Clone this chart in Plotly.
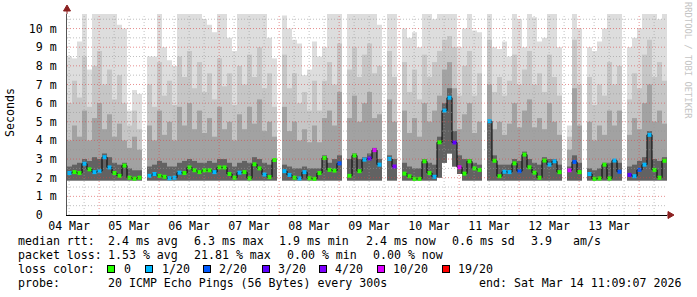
import numpy as np
import pandas as pd
import plotly.graph_objects as go

# ---------------- data ----------------
START = "2026-03-04 11:09:07"
END = "2026-03-14 11:09:07"
STEP_HOURS = 2

# smoke levels per 2-hour column (ms); None = no data (white gap)
smoke_top = [8.5, 8.4, 9.3, 10.8, 7.8, 10.8, 10.8, 10.8, 10.8, 10.8, 10.2, 10.0,
             5.6, 6.7, 6.5, None, 8.5, 8.5, 10.8, 9.0, 8.3, 8.0, 10.8, 10.8,
             10.8, 10.8, 10.8, 10.5, 10.2, 9.8, 10.8, 10.8, 9.5, 8.8, 10.8, 10.8,
             10.8, 10.8, 10.8, 10.8, 9.5, 8.4, None, 10.7, 10.0, 9.4, 9.2, 7.5,
             7.8, 9.3, 8.5, 9.0, 10.8, 10.8, 10.8, None, 10.8, 10.8, 10.8, 10.8,
             10.8, 10.8, 10.2, None, 10.8, 10.8, None, 10.0, 9.5, 9.8, 9.0, 10.8,
             10.8, 10.5, 10.8, 10.8, 10.8, 10.8, 9.0, 10.0, 10.8, 9.9, 9.8, None,
             10.8, 9.0, 8.9, 9.3, 8.5, 10.8, 10.5, 9.0, 10.8, 10.6, 9.3, 9.5,
             10.8, 10.8, 9.0, None, 4.8, 10.8, 10.0, None, 9.0, 8.8, 9.3, 10.0,
             10.8, 10.8, 10.8, None, 9.0, 9.5, 10.0, 10.8, 10.8, 10.8, 10.5, 10.8]
smoke_upper = [6.0, 7.2, 6.3, 8.5, 5.8, 8.0, 8.8, 7.0, 7.8, 6.2, 7.5, 6.0,
               4.8, 5.6, 4.6, None, 7.0, 5.8, 8.2, 6.4, 7.2, 5.9, 8.5, 7.4,
               8.8, 6.8, 8.2, 6.6, 7.6, 6.2, 8.4, 6.9, 7.6, 5.9, 8.0, 7.0,
               8.6, 7.4, 9.0, 6.8, 7.6, 5.8, None, 8.6, 6.8, 7.6, 6.0, 6.6,
               5.6, 7.2, 5.6, 7.2, 8.2, 7.0, 9.2, None, 7.8, 9.0, 7.4, 8.6,
               9.2, 7.6, 8.0, None, 8.8, 7.4, None, 8.2, 6.6, 7.8, 6.2, 8.6,
               7.4, 8.2, 8.8, 9.4, 9.6, 9.0, 6.4, 8.0, 8.8, 6.4, 7.6, None,
               9.4, 6.6, 7.4, 6.4, 7.2, 8.6, 7.0, 7.8, 8.8, 7.0, 7.6, 6.6,
               8.6, 7.4, 6.4, None, 4.2, 9.4, 7.0, None, 7.4, 5.9, 7.0, 6.4,
               8.2, 7.0, 8.0, None, 6.2, 7.6, 6.8, 8.6, 9.4, 7.4, 8.2, 7.2]
smoke_mid = [4.0, 4.8, 4.2, 5.6, 4.0, 5.2, 6.0, 4.6, 5.4, 4.2, 4.9, 4.0,
             3.6, 4.2, 3.5, None, 4.8, 4.0, 5.6, 4.3, 5.0, 4.0, 5.8, 4.8,
             6.0, 4.6, 5.6, 4.4, 5.2, 4.2, 5.8, 4.6, 5.0, 4.0, 5.4, 4.6,
             5.8, 4.9, 6.2, 4.5, 5.0, 4.2, None, 5.8, 4.5, 5.0, 4.0, 4.6,
             3.9, 4.8, 3.9, 5.2, 5.6, 4.8, 6.6, None, 5.2, 6.4, 5.0, 6.0,
             6.6, 5.2, 5.4, None, 6.2, 5.0, None, 5.6, 4.4, 5.2, 4.2, 6.0,
             5.0, 5.6, 6.4, 7.8, 8.2, 6.8, 4.6, 5.4, 6.0, 4.4, 5.0, None,
             7.0, 4.6, 5.0, 4.3, 4.9, 6.0, 4.7, 5.6, 6.2, 4.7, 5.2, 4.6,
             6.0, 5.0, 4.3, None, 3.5, 6.8, 4.8, None, 5.0, 4.0, 4.8, 4.3,
             5.6, 4.8, 5.6, None, 4.3, 5.2, 4.6, 6.0, 7.0, 5.0, 5.6, 4.9]
smoke_dark = [2.6, 2.7, 2.8, 3.0, 2.9, 3.1, 3.0, 3.3, 3.1, 2.8, 2.7, 2.8,
              2.5, 2.4, 2.4, None, 2.6, 2.7, 2.9, 2.8, 2.6, 2.6, 2.8, 2.9,
              3.0, 2.9, 2.8, 2.8, 2.9, 2.8, 3.0, 3.0, 2.8, 2.6, 2.8, 2.9,
              2.8, 3.1, 3.0, 2.8, 2.7, 3.0, None, 2.7, 2.6, 2.5, 2.5, 2.6,
              2.5, 2.5, 2.5, 3.2, 2.8, 3.0, 3.2, None, 3.0, 3.3, 3.0, 3.1,
              3.3, 3.6, 3.0, None, 3.2, 3.0, None, 2.8, 2.6, 2.5, 2.5, 3.0,
              2.8, 2.7, 4.2, 6.0, 6.8, 4.5, 3.2, 3.0, 3.0, 2.8, 2.7, None,
              5.0, 3.2, 2.7, 2.7, 2.7, 3.0, 2.9, 3.4, 3.0, 2.8, 2.7, 3.1,
              3.0, 3.0, 2.7, None, 2.6, 3.2, 2.8, None, 2.5, 2.4, 2.5, 2.8,
              2.8, 3.0, 2.8, None, 2.6, 2.7, 2.9, 3.1, 4.5, 3.0, 2.9, 3.1]
smoke_base = [1.85, 1.85, 1.85, 1.85, 1.85, 1.85, 1.85, 1.85, 1.85, 1.85, 1.85, 1.85,
              1.85, 1.85, 1.85, None, 1.85, 1.85, 1.85, 1.85, 1.85, 1.85, 1.85, 1.85,
              1.85, 1.85, 1.85, 1.85, 1.85, 1.85, 1.85, 1.85, 1.85, 1.85, 1.85, 1.85,
              1.85, 1.85, 1.85, 1.85, 1.85, 1.85, None, 1.85, 1.85, 1.85, 1.85, 1.85,
              1.85, 1.85, 1.85, 1.85, 1.85, 1.85, 1.85, None, 1.85, 1.85, 1.85, 1.85,
              1.85, 1.85, 1.85, None, 1.85, 1.85, None, 1.85, 1.85, 1.85, 1.85, 1.85,
              1.85, 1.85, 2.0, 2.8, 3.3, 2.6, 2.2, 1.85, 1.85, 1.85, 1.85, None,
              1.85, 1.85, 1.85, 1.85, 1.85, 1.85, 1.85, 1.85, 1.85, 1.85, 1.85, 1.85,
              1.85, 1.85, 1.85, None, 1.85, 1.85, 1.85, None, 1.85, 1.85, 1.85, 1.85,
              1.85, 1.85, 1.85, None, 1.85, 1.85, 1.85, 1.85, 1.85, 1.85, 1.85, 1.85]
median_rtt = [2.25, 2.3, 2.25, 2.75, 2.45, 2.3, 2.35, 3.1, 2.55, 2.25, 2.1, 2.65,
              2.0, 1.95, 2.0, None, 2.1, 2.2, 2.1, 2.05, 1.97, 2.0, 2.27, 2.25,
              2.55, 2.4, 2.3, 2.4, 2.4, 2.3, 2.55, 2.55, 2.2, 2.0, 2.27, 2.3,
              1.97, 2.72, 2.5, 2.17, 2.03, 2.95, None, 2.35, 2.15, 2.0, 1.96, 2.3,
              1.97, 1.94, 2.25, 3.06, 2.42, 2.38, 2.77, None, 2.1, 3.19, 2.35, 2.97,
              3.03, 3.48, 2.7, None, 3.01, 2.6, None, 2.22, 2.08, 1.94, 1.94, 2.88,
              2.25, 2.05, 3.9, 5.6, 6.29, 3.89, 2.56, 2.22, 2.88, 2.5, 2.42, None,
              5.03, 2.91, 2.08, 2.32, 2.3, 2.77, 2.35, 3.24, 2.56, 2.27, 2.0, 2.92,
              2.7, 2.88, 2.3, None, 2.4, 2.85, 2.3, None, 2.2, 1.94, 1.96, 2.7,
              1.96, 2.92, 2.32, None, 2.15, 2.08, 2.42, 2.7, 4.3, 2.42, 2.0, 2.91]
loss_20 = [1, 0, 0, 1, 0, 1, 1, 1, 1, 0, 0, 0,
           0, 0, 0, None, 1, 1, 0, 0, 1, 1, 1, 0,
           0, 0, 0, 0, 0, 1, 0, 0, 0, 0, 1, 0,
           0, 0, 0, 1, 0, 0, None, 1, 1, 0, 1, 1,
           0, 0, 0, 0, 0, 0, 2, None, 0, 0, 0, 1,
           3, 10, 1, None, 1, 4, None, 0, 0, 0, 0, 0,
           0, 1, 0, 1, 1, 3, 10, 0, 0, 0, 0, None,
           1, 0, 0, 1, 1, 0, 2, 0, 0, 0, 0, 0,
           1, 1, 0, None, 10, 2, 0, None, 1, 0, 0, 0,
           0, 1, 2, None, 3, 1, 2, 1, 1, 0, 0, 0]

loss_labels = ["0", "1/20", "2/20", "3/20", "4/20", "10/20", "19/20"]
loss_values = [0, 1, 2, 3, 4, 10, 19]
y_tick_values = [0, 1, 2, 3, 4, 5, 6, 7, 8, 9, 10]
y_tick_text = ["0\u00a0\u00a0"] + [f"{v} m" for v in y_tick_values[1:]]

legend_rtt = ["2.4 ms avg", "6.3 ms max", "1.9 ms min", "2.4 ms now", "0.6 ms sd", "3.9", "am/s"]
legend_loss = ["1.53 % avg", "21.81 % max", "0.00 % min", "0.00 % now"]
probe_text = "20 ICMP Echo Pings (56 Bytes) every 300s"
end_text = "end: Sat Mar 14 11:09:07 2026"

# ---------------- styles ----------------
LOSS_COLORS = {0: "#26ff00", 1: "#00b8ff", 2: "#0059ff", 3: "#5e00ff",
               4: "#7e00ff", 10: "#dd00ff", 19: "#ff0000"}
SMOKE_COLORS = ["#dddddd", "#c6c6c6", "#a2a2a2", "#626262"]
FONT = "DejaVu Sans Mono"
FS = 11.6
W, H = 697, 297
ML, MR, MT, MB = 67, 30, 14, 82
PW = W - ML - MR
PH = H - MT - MB
Y_MAX = 10.78


def px(x):
    return (x - ML) / PW


def py(y):
    return (H - MB - y) / PH


def nb(s):
    return s.replace(" ", "\u00a0")


start = pd.Timestamp(START)
end = pd.Timestamp(END)
step = pd.Timedelta(hours=STEP_HOURS)
n = len(smoke_top)
times = [start + step * (k + 0.5) for k in range(n)]
width_ms = STEP_HOURS * 3600 * 1000

fig = go.Figure()
for level, color in zip([smoke_top, smoke_upper, smoke_mid, smoke_dark], SMOKE_COLORS):
    hts = [None if (v is None or b is None) else v - b for v, b in zip(level, smoke_base)]
    fig.add_trace(go.Bar(x=times, y=hts, base=smoke_base, width=width_ms,
                         marker=dict(color=color, line=dict(width=0)),
                         hoverinfo="skip"))

fig.add_trace(go.Scatter(x=times, y=median_rtt, mode="lines", line_shape="hvh",
                         connectgaps=False, line=dict(color="#000000", width=1),
                         hoverinfo="skip"))
fig.add_trace(go.Scatter(
    x=[t for t, m in zip(times, median_rtt) if m is not None],
    y=[m for m in median_rtt if m is not None],
    mode="markers",
    marker=dict(symbol="square", size=4,
                color=[LOSS_COLORS[l] for l in loss_20 if l is not None],
                line=dict(width=0)),
    hoverinfo="skip"))

grid_red = "rgba(215,70,70,0.6)"
grid_gray = "rgba(150,150,150,0.6)"
DASH = "1px,2px"

fig.update_layout(
    width=W, height=H, margin=dict(l=ML, r=MR, t=MT, b=MB),
    paper_bgcolor="white", plot_bgcolor="white",
    barmode="overlay", showlegend=False,
    font=dict(family=FONT, size=FS, color="black"),
    xaxis=dict(type="date", range=[START, END], tickformat="%d %b",
               ticklabelmode="period", tick0="2026-03-05", dtick=86400000,
               showgrid=False, showline=True, linecolor="black", linewidth=1,
               ticks="", zeroline=False,
               tickfont=dict(family=FONT, size=FS, color="black"),
               layer="above traces"),
    yaxis=dict(range=[0, Y_MAX], tickmode="array", tickvals=y_tick_values,
               ticktext=y_tick_text, showgrid=False,
               showline=True, linecolor="#555555", linewidth=1, ticks="",
               ticklabelstandoff=7, zeroline=False,
               tickfont=dict(family=FONT, size=FS, color="black"),
               layer="above traces"),
)

# dotted grid drawn above the smoke, as rrdtool does
for yv in np.arange(0.5, Y_MAX, 0.5):
    major = float(yv).is_integer()
    fig.add_shape(type="line", xref="paper", yref="y", x0=0, x1=1, y0=yv, y1=yv,
                  line=dict(color=grid_red if major else grid_gray, width=1, dash=DASH),
                  layer="above")
for tv in pd.date_range(start.ceil("6h"), end, freq="6h"):
    major = tv.hour == 0
    fig.add_shape(type="line", xref="x", yref="paper", x0=tv, x1=tv, y0=0, y1=1,
                  line=dict(color=grid_red if major else grid_gray, width=1, dash=DASH),
                  layer="above")

# axis arrows
ARROW = "#8b2020"
fig.add_shape(type="path", xref="paper", yref="paper", xsizemode="pixel",
              ysizemode="pixel", xanchor=1, yanchor=0,
              path="M 0,0 L 2,0 M 1,-3.5 L 7,0 L 1,3.5 Z",
              fillcolor=ARROW, line=dict(color=ARROW, width=1), layer="above")
fig.add_shape(type="path", xref="paper", yref="paper", xsizemode="pixel",
              ysizemode="pixel", xanchor=0, yanchor=1,
              path="M 0,0 L 0,4 M -3.5,3 L 3.5,3 L 0,9 Z",
              fillcolor=ARROW, line=dict(color=ARROW, width=1), layer="above")


def text(s, x, y, size=FS, color="black", angle=0, xanchor="left"):
    fig.add_annotation(text=nb(s), x=px(x), y=py(y), xref="paper", yref="paper",
                       showarrow=False, xanchor=xanchor, yanchor="middle",
                       borderpad=0, textangle=angle,
                       font=dict(family=FONT, size=size, color=color))


text("Seconds", 10, 113, angle=-90, xanchor="center")
text("RRDTOOL / TOBI OETIKER", 688, 60, size=8.8, color="#c4c4c4", angle=90,
     xanchor="center")

# legend line 1
text("median rtt:", 16.7, 241)
for s, x in zip(legend_rtt, [107.3, 193.3, 278, 364.5, 450.5, 530, 572.3]):
    text(s, x, 241)
# legend line 2
text("packet loss:", 16.7, 255)
for s, x in zip(legend_loss, [107.3, 192.5, 285.5, 372]):
    text(s, x, 255)
# legend line 3
text("loss color:", 16.7, 268.5)
sq_x = [107.3, 145, 203.3, 261.7, 319.3, 377.3, 441.7]
lab_x = [123.3, 160.7, 218.3, 276.7, 334, 391.7, 456.7]
for lv, lab, sx, lx in zip(loss_values, loss_labels, sq_x, lab_x):
    fig.add_annotation(text="", x=px(sx), y=py(268.5), xref="paper", yref="paper",
                       showarrow=False, xanchor="left", yanchor="middle",
                       width=6, height=6, borderpad=0, borderwidth=1,
                       bordercolor="black", bgcolor=LOSS_COLORS[lv])
    text(lab, lx, 268.5)
# legend line 4
text("probe:", 16.7, 283)
text(probe_text, 107.3, 283)
text(end_text, 478, 283)

fig.write_html("out.html")
